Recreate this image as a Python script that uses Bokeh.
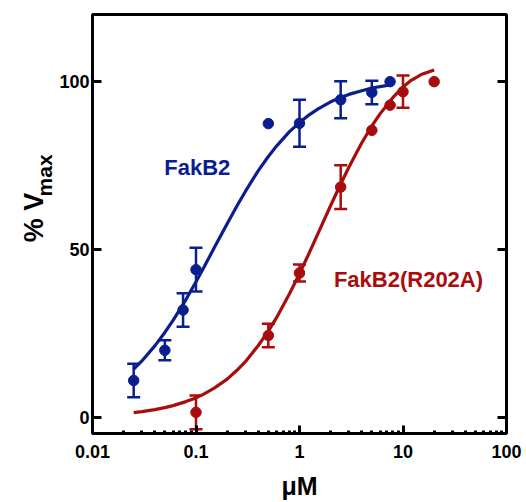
import math
from bokeh.plotting import figure
from bokeh.layouts import row
from bokeh.models import (Range1d, FixedTicker, LinearAxis, Whisker, TeeHead,
                          ColumnDataSource, CustomJSTickFormatter)
from bokeh.core.properties import value
from bokeh.embed import file_html
from bokeh.resources import INLINE

BLUE = "#0b1e8e"
RED = "#a80d0d"
FONT = "Liberation Sans"

# ---- data ----
blue_x = [0.025, 0.05, 0.075, 0.1, 0.5, 1, 2.5, 5, 7.5]
blue_y = [11, 20, 32, 44, 87.5, 87.6, 94.6, 96.8, 100]
blue_err = [5, 3, 5, 6.5, 0, 7, 5.5, 3.5, 0]

red_x = [0.1, 0.5, 1, 2.5, 5, 7.5, 10, 20]
red_y = [1.5, 24.4, 43, 68.6, 85.5, 93, 97, 100]
red_err = [5, 3.5, 2.5, 6.5, 0, 0, 4.8, 0]

# fitted curves
blue_fit_x = [0.025, 0.03, 0.04, 0.05, 0.06, 0.08, 0.1, 0.12, 0.15, 0.2, 0.25, 0.3,
              0.4, 0.5, 0.6, 0.8, 1, 1.2, 1.5, 2, 2.5, 3, 4, 5, 6, 7.5]
blue_fit_y = [14.4, 16.8, 21.3, 25.3, 28.9, 35.1, 40.4, 44.9, 50.5, 57.7, 63.1, 67.3,
              73.5, 77.7, 80.8, 85.1, 87.8, 89.8, 91.8, 94.0, 95.3, 96.2, 97.3, 98.1, 98.5, 99.0]

red_fit_x = [0.025, 0.03, 0.04, 0.05, 0.06, 0.08, 0.1, 0.12, 0.15, 0.2, 0.25, 0.3,
             0.4, 0.5, 0.6, 0.8, 1, 1.2, 1.5, 2, 2.5, 3, 4, 5, 6, 8, 10, 12, 15, 20]
red_fit_y = [1.4, 1.7, 2.3, 2.9, 3.5, 4.7, 5.8, 7.0, 8.7, 11.4, 14.1, 16.6,
             21.4, 25.7, 29.7, 36.8, 42.8, 48.0, 54.6, 63.1, 69.5, 74.5, 81.8, 86.8,
             90.4, 95.3, 98.4, 100.4, 102.1, 103.5]

x_ticks = [0.01, 0.1, 1, 10, 100]
y_ticks = [0, 50, 100]

series_labels = ["FakB2", "FakB2(R202A)"]
x_title = "\u03bcM"
y_title_main = "% V"
y_title_sub = "max"

H = 502
LEFT_W = 56

# ---- narrow strip that carries the y-axis title ----
lt = figure(width=LEFT_W, height=H, x_range=Range1d(0, LEFT_W), y_range=Range1d(0, H),
            x_axis_location=None, y_axis_location=None, min_border=0,
            output_backend="svg", toolbar_location=None,
            background_fill_color="white", border_fill_color="white")
lt.grid.visible = False
lt.outline_line_color = None
lt.text(x=[33], y=[H - 273], text=[y_title_main], angle=math.pi / 2,
        text_color="black", text_font=value(FONT), text_font_style="bold",
        text_font_size="27px", text_align="left", text_baseline="alphabetic")
lt.text(x=[44], y=[H - 218], text=[y_title_sub], angle=math.pi / 2,
        text_color="black", text_font=value(FONT), text_font_style="bold",
        text_font_size="21px", text_align="left", text_baseline="alphabetic")

# ---- main figure ----
p = figure(width=526 - LEFT_W, height=H, x_axis_type="log",
           x_range=Range1d(0.01, 100), y_range=Range1d(-4.8, 120),
           output_backend="svg", toolbar_location=None,
           min_border_left=91 - LEFT_W, min_border_right=20, min_border_top=14,
           min_border_bottom=H - 433,
           background_fill_color="white", border_fill_color="white")
p.grid.visible = False
p.outline_line_color = "black"
p.outline_line_width = 3
p.outline_line_alpha = 1

minor = [k * 10 ** n for n in range(-2, 2) for k in range(2, 10)]

xa = p.xaxis[0]
xa.ticker = FixedTicker(ticks=x_ticks, minor_ticks=minor)
xa.formatter = CustomJSTickFormatter(code="return tick.toString();")
xa.axis_line_color = None
xa.major_tick_in = 8
xa.major_tick_out = 0
xa.minor_tick_in = 3
xa.minor_tick_out = 0
xa.major_tick_line_width = 3
xa.minor_tick_line_width = 3
xa.major_label_standoff = 11
xa.major_label_text_font = FONT
xa.major_label_text_font_style = "bold"
xa.major_label_text_font_size = "18px"
xa.major_label_text_color = "black"
xa.axis_label = x_title
xa.axis_label_standoff = 11
xa.axis_label_text_font = FONT
xa.axis_label_text_font_style = "bold"
xa.axis_label_text_font_size = "25px"
xa.axis_label_text_color = "black"

ya = p.yaxis[0]
ya.ticker = FixedTicker(ticks=y_ticks, minor_ticks=[])
ya.axis_line_color = None
ya.major_tick_in = 9
ya.major_tick_out = 0
ya.major_tick_line_width = 3
ya.minor_tick_line_color = None
ya.major_label_standoff = 3
ya.major_label_text_font = FONT
ya.major_label_text_font_style = "bold"
ya.major_label_text_font_size = "18px"
ya.major_label_text_color = "black"

ra = LinearAxis(ticker=FixedTicker(ticks=y_ticks, minor_ticks=[]))
ra.axis_line_color = None
ra.major_tick_in = 9
ra.major_tick_out = 0
ra.major_tick_line_width = 3
ra.minor_tick_line_color = None
ra.major_label_text_color = None
ra.major_label_text_font_size = "1px"
p.add_layout(ra, "right")

# ---- curves ----
p.line(blue_fit_x, blue_fit_y, line_color=BLUE, line_width=3.2)
p.line(red_fit_x, red_fit_y, line_color=RED, line_width=3.2)

# ---- error bars ----
def add_err(xs, ys, es, color):
    bx = [x for x, e in zip(xs, es) if e > 0]
    up = [y + e for y, e in zip(ys, es) if e > 0]
    lo = [y - e for y, e in zip(ys, es) if e > 0]
    src = ColumnDataSource(dict(base=bx, upper=up, lower=lo))
    w = Whisker(base="base", upper="upper", lower="lower", source=src,
                dimension="height", line_color=color, line_width=2.5,
                upper_head=TeeHead(size=13, line_color=color, line_width=2.5),
                lower_head=TeeHead(size=13, line_color=color, line_width=2.5))
    p.add_layout(w)

add_err(blue_x, blue_y, blue_err, BLUE)
add_err(red_x, red_y, red_err, RED)

p.scatter(blue_x, blue_y, size=10.5, fill_color=BLUE, line_color=BLUE)
p.scatter(red_x, red_y, size=10.5, fill_color=RED, line_color=RED)

# ---- series labels ----
p.text(x=[0.0494], y=[74.5], text=[series_labels[0]], text_color=BLUE,
       text_font=value(FONT), text_font_style="bold", text_font_size="22px",
       text_align="left", text_baseline="alphabetic")
p.text(x=[2.15], y=[41.1], text=[series_labels[1]], text_color=RED,
       text_font=value(FONT), text_font_style="bold", text_font_size="22px",
       text_align="left", text_baseline="alphabetic")

layout = row(lt, p)
open("out.html", "w").write(file_html(layout, INLINE))
